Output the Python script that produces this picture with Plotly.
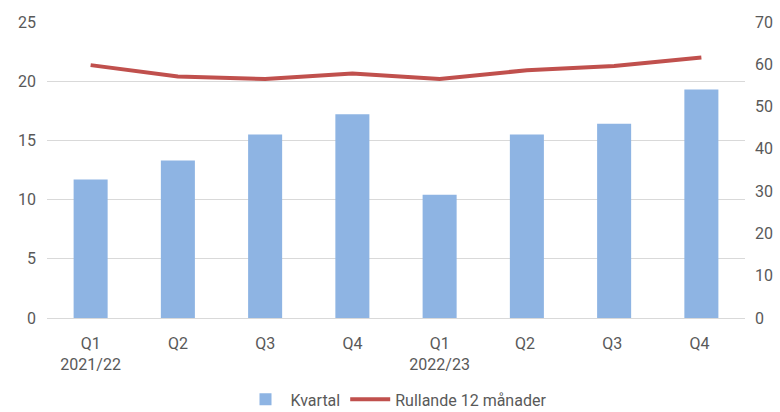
import plotly.graph_objects as go

quarters = ["Q1<br>2021/22", "Q2", "Q3", "Q4", "Q1<br>2022/23", "Q2 ", "Q3 ", "Q4 "]
kvartal = [11.7, 13.3, 15.5, 17.2, 10.4, 15.5, 16.4, 19.3]
rullande = [59.8, 57.1, 56.5, 57.8, 56.5, 58.6, 59.6, 61.6]
left_ticks = [0, 5, 10, 15, 20, 25]
right_ticks = [0, 10, 20, 30, 40, 50, 60, 70]

font_family = "Roboto, Arial"
grey = "#595959"

fig = go.Figure()
fig.add_trace(go.Bar(x=quarters, y=kvartal, name="Kvartal",
                     marker=dict(color="#8EB4E3", line=dict(width=0))))
fig.add_trace(go.Scatter(x=quarters, y=rullande, name="Rullande 12 månader",
                         mode="lines", yaxis="y2",
                         line=dict(color="#C0504D", width=4)))

fig.update_layout(
    width=780, height=412,
    margin=dict(l=47, r=35, t=22, b=94, autoexpand=False),
    paper_bgcolor="white", plot_bgcolor="white",
    font=dict(family=font_family, size=16, color=grey),
    bargap=0.61,
    showlegend=True,
    legend=dict(orientation="h", x=0.5, xanchor="center", y=-0.275, yanchor="middle",
                font=dict(size=16, color=grey), itemwidth=40),
    xaxis=dict(showgrid=False, ticks="", tickfont=dict(size=16, color=grey),
               showline=False, ticklabelstandoff=14),
    yaxis=dict(range=[0, 25], tickvals=left_ticks, gridcolor="#D9D9D9",
               zeroline=True, zerolinecolor="#D9D9D9", zerolinewidth=1,
               ticks="", ticklabelstandoff=10, tickfont=dict(size=16, color=grey)),
    yaxis2=dict(range=[0, 70], tickvals=right_ticks, overlaying="y", side="right",
                showgrid=False, zeroline=False, ticks="", ticklabelstandoff=9,
                tickfont=dict(size=16, color=grey)),
)

fig.write_html("out.html", config={"displayModeBar": False},
               post_script="document.body.style.margin='0';document.body.style.overflow='hidden';")
